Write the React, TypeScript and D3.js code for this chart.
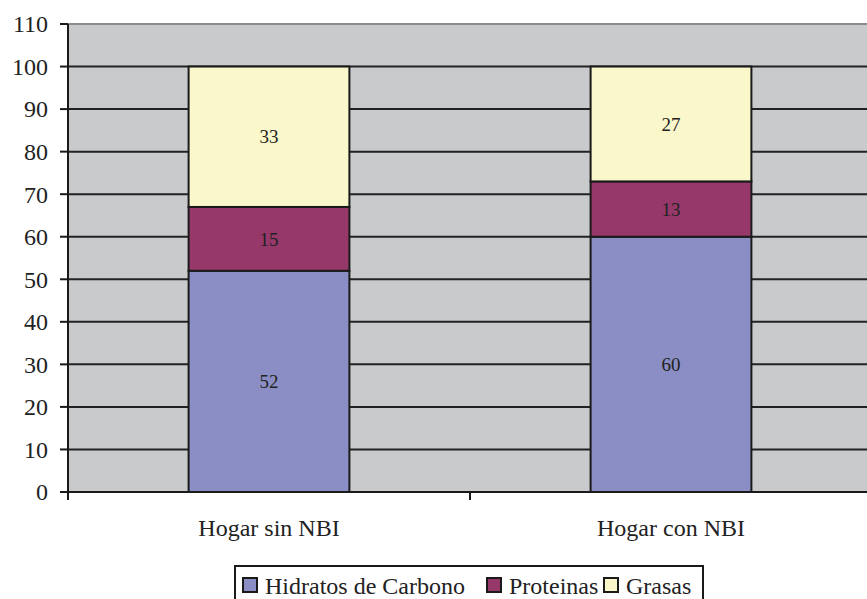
import React from 'react';
import * as d3 from 'd3';

const categories = ['Hogar sin NBI', 'Hogar con NBI'];
const seriesNames = ['Hidratos de Carbono', 'Proteinas', 'Grasas'];
const hidratos = [52, 60];
const proteinas = [15, 13];
const grasas = [33, 27];
const seriesColors = ['#8B8EC4', '#96386A', '#FAF8CA'];
const yTicks = [0, 10, 20, 30, 40, 50, 60, 70, 80, 90, 100, 110];

const font = "'Liberation Serif'";
const left = 68;
const right = 872;
const top = 24;
const bottom = 492;
// legend square positions
const legendSquareX = [243, 487, 604];

export default function App() {
  const x = d3.scaleBand<string>().domain(categories).range([left, right]).paddingInner(0.6).paddingOuter(0.3);
  const xOuter = d3.scaleBand<string>().domain(categories).range([left, right]);
  const y = d3.scaleLinear().domain([0, 110]).range([bottom, top]);

  const rows = categories.map((c, i) => ({ cat: c, h: hidratos[i], p: proteinas[i], g: grasas[i] }));
  const stack = d3.stack<any>().keys(['h', 'p', 'g'])(rows);

  return (
    <div style={{ position: 'absolute', left: 0, top: 0, width: 867, height: 599, background: '#fff' }}>
      <svg width={867} height={599}>
        <rect x={left} y={top} width={right - left} height={bottom - top} fill="#C9CACC" />
        {yTicks.filter(t => t > 0 && t < 110).map(t => (
          <line key={t} x1={left} x2={right} y1={y(t)} y2={y(t)} stroke="#222" strokeWidth={2} />
        ))}
        <line x1={left} x2={right} y1={y(110)} y2={y(110)} stroke="#8a8a8c" strokeWidth={2} />

        {stack.map((layer, li) => (
          <g key={li}>
            {layer.map(d => (
              <rect
                key={d.data.cat}
                x={x(d.data.cat)}
                width={x.bandwidth()}
                y={y(d[1])}
                height={y(d[0]) - y(d[1])}
                fill={seriesColors[li]}
                stroke="#1a1a1a"
                strokeWidth={2}
              />
            ))}
            {layer.map(d => (
              <text
                key={'t' + d.data.cat}
                x={x(d.data.cat)! + x.bandwidth() / 2}
                y={y((d[0] + d[1]) / 2)}
                dy="0.35em"
                textAnchor="middle"
                fontFamily={font}
                fontSize={19}
                fill="#222"
              >
                {d[1] - d[0]}
              </text>
            ))}
          </g>
        ))}

        {/* y axis */}
        <line x1={left} x2={left} y1={top} y2={bottom + 8} stroke="#1a1a1a" strokeWidth={2} />
        {yTicks.map(t => (
          <g key={t}>
            <line x1={left - 8} x2={left} y1={y(t)} y2={y(t)} stroke="#1a1a1a" strokeWidth={2} />
            <text x={48} y={y(t)} dy="0.35em" textAnchor="end" fontFamily={font} fontSize={24} fill="#222">{t}</text>
          </g>
        ))}

        {/* x axis */}
        <line x1={left} x2={right} y1={bottom} y2={bottom} stroke="#1a1a1a" strokeWidth={2} />
        {categories.slice(1).map(c => (
          <line key={c} x1={xOuter(c)} x2={xOuter(c)} y1={bottom} y2={bottom + 8} stroke="#1a1a1a" strokeWidth={2} />
        ))}
        {categories.map(c => (
          <text key={c} x={xOuter(c)! + xOuter.bandwidth() / 2} y={536} textAnchor="middle" fontFamily={font} fontSize={24} fill="#222">{c}</text>
        ))}

        {/* legend */}
        <rect x={235} y={566} width={468} height={50} fill="#fff" stroke="#1a1a1a" strokeWidth={2} />
        {seriesNames.map((name, i) => (
          <g key={name}>
            <rect x={legendSquareX[i]} y={578} width={14} height={14} fill={seriesColors[i]} stroke="#1a1a1a" strokeWidth={2} />
            <text x={legendSquareX[i] + 22} y={594} fontFamily={font} fontSize={24} fill="#222">{name}</text>
          </g>
        ))}
      </svg>
    </div>
  );
}
